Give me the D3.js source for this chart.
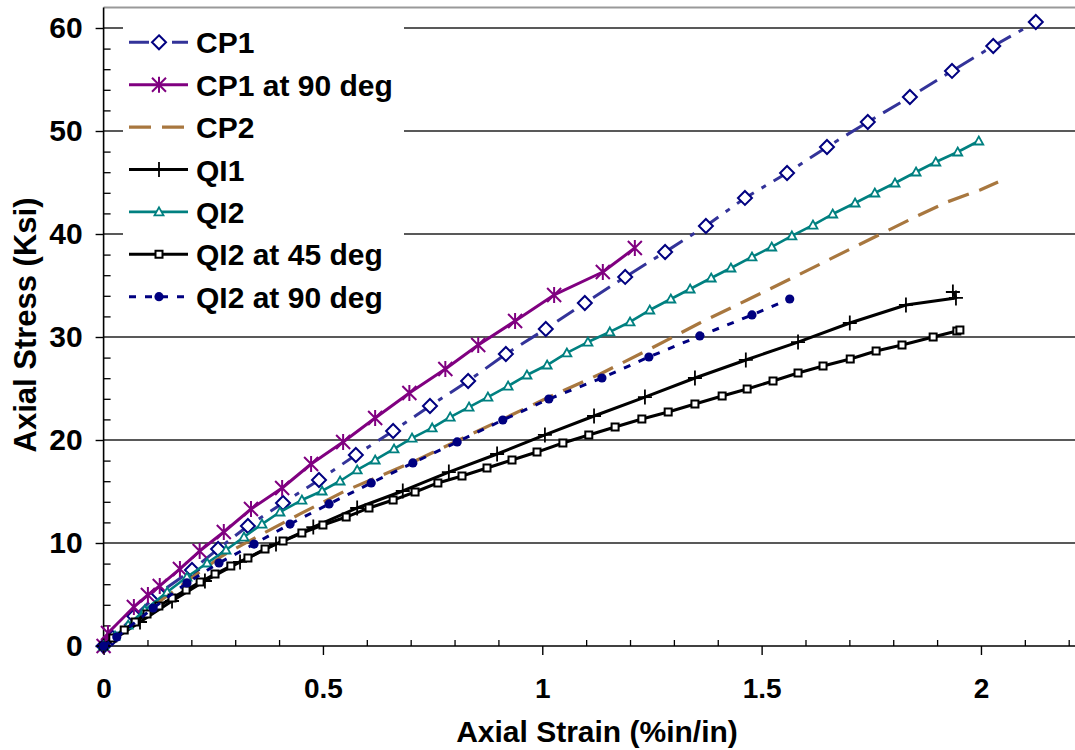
<!DOCTYPE html>
<html><head><meta charset="utf-8">
<script src="https://cdn.jsdelivr.net/npm/d3@7"></script>
<style>
html,body{margin:0;padding:0;background:#fff;}
svg{display:block;font-family:"Liberation Sans",Arial,sans-serif;font-weight:bold;}
</style></head><body>
<svg id="chart" width="1075" height="750"></svg>
<script>
// ---- data (strain %in/in, stress ksi) ----
const seriesNames = ["CP1","CP1 at 90 deg","CP2","QI1","QI2","QI2 at 45 deg","QI2 at 90 deg"];
const cp1 = [[0,0],[0.02,0.8],[0.07,2.9],[0.125,5.1],[0.2015,7.38],[0.261,9.42],[0.329,11.65],[0.409,13.88],[0.491,16.12],[0.575,18.54],[0.66,20.87],[0.744,23.3],[0.831,25.73],[0.917,28.35],[1.008,30.78],[1.097,33.3],[1.189,35.83],[1.28,38.25],[1.373,40.78],[1.462,43.5],[1.558,45.92],[1.649,48.45],[1.742,50.87],[1.838,53.3],[1.934,55.83],[2.028,58.25],[2.125,60.58]];
const cp1at90 = [[0,0],[0.01,1.26],[0.069,3.79],[0.101,4.95],[0.128,5.83],[0.174,7.48],[0.219,9.22],[0.274,11.07],[0.336,13.3],[0.407,15.34],[0.473,17.67],[0.546,19.81],[0.619,22.14],[0.697,24.56],[0.779,26.89],[0.854,29.22],[0.938,31.55],[1.027,34.08],[1.138,36.31],[1.211,38.64]];
const cp2 = [[0,0],[0.06,2.04],[0.129,4.37],[0.197,6.5],[0.27,8.74],[0.357,10.78],[0.448,12.82],[0.55,15.05],[0.705,17.86],[0.858,20.97],[1.011,24.08],[1.132,26.41],[1.245,28.83],[1.359,31.36],[1.467,33.59],[1.565,35.63],[1.702,38.54],[1.845,41.55],[1.923,43.11],[1.998,44.27],[2.039,45.05]];
const qi1 = [[0,0],[0.083,2.33],[0.156,4.37],[0.231,6.31],[0.311,8.16],[0.393,9.9],[0.478,11.55],[0.578,13.4],[0.682,15.05],[0.787,16.89],[0.897,18.64],[1.006,20.49],[1.118,22.33],[1.234,24.17],[1.348,26.02],[1.464,27.77],[1.583,29.51],[1.701,31.36],[1.829,33.11],[1.943,33.79],[1.936,34.37]];
const qi2 = [[0,0],[0.026,0.97],[0.056,2.04],[0.094,3.5],[0.145,5.24],[0.19,6.7],[0.236,8.06],[0.279,9.32],[0.32,10.58],[0.361,11.84],[0.402,13.01],[0.452,14.17],[0.498,15.05],[0.539,16.02],[0.578,17.09],[0.619,18.06],[0.662,19.13],[0.703,20.19],[0.749,21.17],[0.79,22.23],[0.833,23.2],[0.876,24.17],[0.922,25.24],[0.965,26.31],[1.011,27.28],[1.056,28.45],[1.104,29.51],[1.154,30.49],[1.2,31.46],[1.245,32.62],[1.293,33.69],[1.337,34.66],[1.385,35.73],[1.43,36.7],[1.478,37.77],[1.523,38.74],[1.569,39.81],[1.617,40.87],[1.662,41.94],[1.713,43.01],[1.758,43.98],[1.804,44.95],[1.852,46.02],[1.897,46.99],[1.947,47.96],[1.995,49.03]];
const qi2at45 = [[0,0],[0.021,0.78],[0.047,1.55],[0.072,2.33],[0.099,3.11],[0.126,3.88],[0.156,4.66],[0.188,5.44],[0.22,6.21],[0.254,6.99],[0.29,7.77],[0.329,8.54],[0.368,9.42],[0.409,10.19],[0.452,10.97],[0.5,11.75],[0.553,12.52],[0.605,13.4],[0.66,14.17],[0.71,14.95],[0.762,15.83],[0.817,16.5],[0.874,17.28],[0.931,18.06],[0.988,18.83],[1.047,19.71],[1.106,20.49],[1.166,21.26],[1.227,22.04],[1.287,22.72],[1.348,23.5],[1.41,24.27],[1.467,24.95],[1.526,25.73],[1.583,26.5],[1.64,27.18],[1.702,27.86],[1.761,28.64],[1.82,29.22],[1.891,30.0],[1.945,30.58],[1.952,30.68]];
const qi2at90 = [[0,0],[0.03,0.87],[0.113,3.69],[0.19,6.12],[0.263,8.06],[0.343,9.9],[0.425,11.84],[0.514,13.79],[0.61,15.83],[0.705,17.77],[0.806,19.81],[0.91,21.94],[1.015,23.98],[1.136,26.02],[1.243,28.06],[1.359,30.1],[1.478,32.14],[1.564,33.69]];
const xTicks = [0,0.5,1,1.5,2];
const xTickLabels = ["0","0.5","1","1.5","2"];
const yTicks = [0,10,20,30,40,50,60];
const xTitle = "Axial Strain (%in/in)";
const yTitle = "Axial Stress (Ksi)";

// ---- styles ----
const styles = [
  {data:cp1, color:"#333399", width:3, dash:"20,9,5,9", marker:"diamond", mcolor:"#000080"},
  {data:cp1at90, color:"#800080", width:3, dash:null, marker:"asterisk", mcolor:"#800080"},
  {data:cp2, color:"#A8773F", width:3.2, dash:"22,11", marker:null, mcolor:null},
  {data:qi1, color:"#000000", width:3, dash:null, marker:"plus", mcolor:"#000000"},
  {data:qi2, color:"#008080", width:2.6, dash:null, marker:"triangle", mcolor:"#008080"},
  {data:qi2at45, color:"#000000", width:3, dash:null, marker:"square", mcolor:"#000000"},
  {data:qi2at90, color:"#000080", width:3, dash:"7,9", marker:"circle", mcolor:"#000080"}
];

const svg = d3.select("#chart");
const W = 1075;
const x = d3.scaleLinear().domain([0,2.2]).range([103.6,1068.7]);
const y = d3.scaleLinear().domain([0,62]).range([646,7.4]);

// gridlines
svg.append("g").selectAll("line").data(yTicks.filter(v=>v>0)).join("line")
  .attr("x1",x(0)).attr("x2",W).attr("y1",d=>y(d)).attr("y2",d=>y(d))
  .attr("stroke","#222").attr("stroke-width",1.4);
svg.append("line").attr("x1",x(0)).attr("x2",W).attr("y1",y(62)).attr("y2",y(62))
  .attr("stroke","#999").attr("stroke-width",2);

// legend background
svg.append("rect").attr("x",123).attr("y",11).attr("width",281).attr("height",308).attr("fill","#fff");

// axes
const yAxis = d3.axisLeft(y).tickValues(yTicks).tickSize(8).tickPadding(13).tickFormat(d3.format("d"));
const gy = svg.append("g").attr("transform",`translate(${x(0)},0)`).call(yAxis);
gy.select(".domain").remove();
gy.selectAll("line").attr("stroke","#000").attr("stroke-width",1.4);
gy.selectAll("text").attr("font-size",30).attr("font-weight","bold").attr("font-family",'"Liberation Sans",Arial,sans-serif').attr("fill","#000");
const yMinor = d3.range(2,62,2).filter(v=>v%10!==0);
const gym = svg.append("g").attr("transform",`translate(${x(0)},0)`).call(d3.axisLeft(y).tickValues(yMinor).tickSize(-7).tickFormat(""));
gym.select(".domain").remove();
gym.selectAll("line").attr("stroke","#000").attr("stroke-width",1.3);

const xAxis = d3.axisBottom(x).tickValues(xTicks).tickSize(9).tickPadding(23).tickFormat((d,i)=>xTickLabels[i]);
const gx = svg.append("g").attr("transform",`translate(0,${y(0)})`).call(xAxis);
gx.select(".domain").remove();
gx.selectAll("line").attr("stroke","#000").attr("stroke-width",1.4);
gx.selectAll("text").attr("font-size",28).attr("font-weight","bold").attr("font-family",'"Liberation Sans",Arial,sans-serif').attr("fill","#000");
const xMinor = d3.range(1,23).map(v=>v/10).filter(v=>Math.abs(v*2-Math.round(v*2))>1e-6);
const gxm = svg.append("g").attr("transform",`translate(0,${y(0)})`).call(d3.axisBottom(x).tickValues(xMinor).tickSize(-6).tickFormat(""));
gxm.select(".domain").remove();
gxm.selectAll("line").attr("stroke","#000").attr("stroke-width",1.3);

svg.append("line").attr("x1",x(0)).attr("x2",x(0)).attr("y1",y(62)).attr("y2",y(0)).attr("stroke","#000").attr("stroke-width",1.6);
svg.append("line").attr("x1",x(0)).attr("x2",W).attr("y1",y(0)).attr("y2",y(0)).attr("stroke","#000").attr("stroke-width",1.6);

// titles
svg.append("text").attr("x",597).attr("y",742).attr("text-anchor","middle").attr("font-size",30).text(xTitle);
svg.append("text").attr("transform","translate(36,325) rotate(-90)").attr("text-anchor","middle").attr("font-size",31).text(yTitle);

// marker drawing
function drawMarker(g, type, color){
  if(type==="diamond") g.append("path").attr("d","M0,-7L7,0L0,7L-7,0Z").attr("fill","#fff").attr("stroke",color).attr("stroke-width",2);
  else if(type==="asterisk") g.append("path").attr("d","M0,-8V8M-7,-7L7,7M-7,7L7,-7").attr("fill","none").attr("stroke",color).attr("stroke-width",2);
  else if(type==="plus") g.append("path").attr("d","M-7,0H7M0,-7.5V7.5").attr("fill","none").attr("stroke",color).attr("stroke-width",1.8);
  else if(type==="triangle") g.append("path").attr("d","M0,-4.5L4.5,3.5L-4.5,3.5Z").attr("fill","#fff").attr("stroke",color).attr("stroke-width",1.8);
  else if(type==="square") g.append("path").attr("d","M-3.5,-3.5h7v7h-7Z").attr("fill","#fff").attr("stroke",color).attr("stroke-width",2);
  else if(type==="circle") g.append("circle").attr("r",4.6).attr("fill",color);
}

const line = d3.line().x(d=>x(d[0])).y(d=>y(d[1]));
styles.forEach(s=>{
  const g = svg.append("g");
  g.append("path").attr("d",line(s.data)).attr("fill","none").attr("stroke",s.color)
    .attr("stroke-width",s.width).attr("stroke-dasharray",s.dash).attr("stroke-linejoin","round");
  if(s.marker){
    s.data.forEach(d=>{
      const mg = g.append("g").attr("transform",`translate(${x(d[0])},${y(d[1])})`);
      drawMarker(mg, s.marker, s.mcolor);
    });
  }
});

// legend
const legY0 = 42.3, legDy = 42.4;
styles.forEach((s,i)=>{
  const ly = legY0 + i*legDy;
  const g = svg.append("g");
  g.append("line").attr("x1",129).attr("x2",188).attr("y1",ly).attr("y2",ly)
    .attr("stroke",s.color).attr("stroke-width",s.width).attr("stroke-dasharray",s.dash);
  if(s.marker){
    const mg = g.append("g").attr("transform",`translate(159,${ly})`);
    drawMarker(mg, s.marker, s.mcolor);
  }
  g.append("text").attr("x",196).attr("y",ly+11).attr("font-size",30).text(seriesNames[i]);
});
</script>
</body></html>
